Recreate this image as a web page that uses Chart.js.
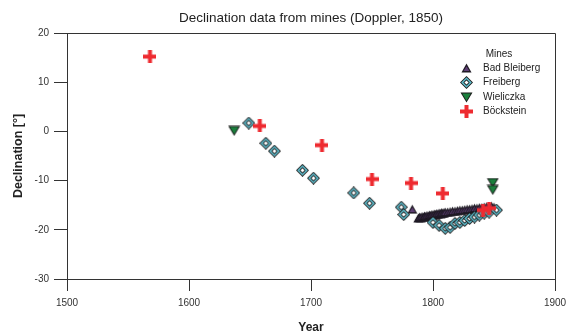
<!DOCTYPE html>
<html>
<head>
<meta charset="utf-8">
<script src="https://cdn.jsdelivr.net/npm/chart.js@4/dist/chart.umd.min.js"></script>
<style>
html,body{margin:0;padding:0;background:#fff;}
#wrap{width:574px;height:331px;}
</style>
</head>
<body>
<div id="wrap"><canvas id="c" width="574" height="331"></canvas></div>
<script>
const chartTitle = "Declination data from mines (Doppler, 1850)";
const legendTitle = "Mines";
const seriesNames = ["Bad Bleiberg", "Freiberg", "Wieliczka", "Böckstein"];
const xTicks = [1500, 1600, 1700, 1800, 1900];
const yTicks = [-30, -20, -10, 0, 10, 20];

const badBleibergYears = [1783,1788,1789,1790,1791,1792,1793,1794,1795,1796,1797,1798,1799,1800,1801,1802,1803,1804,1805,1806,1807,1808,1809,1810,1812,1814,1816,1818,1820,1822,1824,1826,1828,1830,1832,1834,1836,1838,1840,1842,1844,1846,1848,1850];
const badBleibergDecl = [-15.8,-17.6,-17.4,-17.5,-17.3,-17.4,-17.2,-17.3,-17.1,-17.2,-17.0,-17.1,-16.9,-17.0,-16.8,-16.9,-16.7,-16.8,-16.6,-16.7,-16.5,-16.6,-16.5,-16.4,-16.4,-16.3,-16.2,-16.2,-16.1,-16.0,-16.0,-15.9,-15.8,-15.8,-15.7,-15.6,-15.6,-15.5,-15.5,-15.4,-15.3,-15.3,-15.2,-15.4];

const freibergYears = [1649,1663,1670,1693,1702,1735,1748,1774,1776,1800,1805,1810,1814,1818,1822,1826,1830,1834,1838,1842,1846,1852];
const freibergDecl = [1.7,-2.4,-4.0,-7.9,-9.5,-12.5,-14.6,-15.4,-16.9,-18.5,-19.1,-19.7,-19.5,-18.7,-18.5,-18.1,-17.7,-17.4,-17.0,-16.6,-16.4,-16.0];

const wieliczkaYears = [1637,1849,1849];
const wieliczkaDecl = [0.1,-10.5,-11.9];

const bockYears = [1568,1658,1709,1750,1782,1808,1841,1846];
const bockDecl = [15.2,1.1,-2.8,-9.7,-10.5,-12.6,-16.0,-15.6];

function pts(xs, ys){ return xs.map((x,i)=>({x:x,y:ys[i]})); }

function mk(w,h,fn){ const c=document.createElement('canvas'); c.width=w; c.height=h; fn(c.getContext('2d'),w,h); return c; }

const triUp = mk(11,10,(g,w,h)=>{
  g.beginPath(); g.moveTo(w/2,0.5); g.lineTo(w-0.5,h-0.5); g.lineTo(0.5,h-0.5); g.closePath();
  g.fillStyle='#1f1a24'; g.fill();
  g.beginPath(); g.moveTo(w/2,3.2); g.lineTo(w-2.6,h-2); g.lineTo(2.6,h-2); g.closePath();
  g.fillStyle='#5e3f74'; g.fill();
});
const diamond = mk(13,13,(g,w,h)=>{
  const cx=w/2, cy=h/2;
  function d(r,col){ g.beginPath(); g.moveTo(cx,cy-r); g.lineTo(cx+r,cy); g.lineTo(cx,cy+r); g.lineTo(cx-r,cy); g.closePath(); g.fillStyle=col; g.fill(); }
  d(6.5,'#1a1a1a'); d(5.3,'#5fbccc'); d(3.2,'#1a1a1a'); d(2.1,'#ffffff');
});
const triDown = mk(13,11,(g,w,h)=>{
  g.beginPath(); g.moveTo(0.5,0.5); g.lineTo(w-0.5,0.5); g.lineTo(w/2,h-0.5); g.closePath();
  g.fillStyle='#1a1a1a'; g.fill();
  g.beginPath(); g.moveTo(2.2,1.6); g.lineTo(w-2.2,1.6); g.lineTo(w/2,h-2.3); g.closePath();
  g.fillStyle='#1a7f3c'; g.fill();
});
const cross = mk(13,13,(g,w,h)=>{
  g.fillStyle='#ee2b30';
  g.fillRect(0,4.5,13,4); g.fillRect(4.5,0,4,13);
});
const markers = [triUp, diamond, triDown, cross];

const datasets = [
  {label:seriesNames[0], data:pts(badBleibergYears,badBleibergDecl), pointStyle:triUp, order:3},
  {label:seriesNames[1], data:pts(freibergYears,freibergDecl), pointStyle:diamond, order:2},
  {label:seriesNames[2], data:pts(wieliczkaYears,wieliczkaDecl), pointStyle:triDown, order:1},
  {label:seriesNames[3], data:pts(bockYears,bockDecl), pointStyle:cross, order:0}
].map(d=>Object.assign({showLine:false, pointRadius:6, pointHoverRadius:6}, d));

const FONT = "'Liberation Sans', Arial, Helvetica, sans-serif";

const decor = {
  id:'decor',
  afterDraw(chart){
    const g=chart.ctx, a=chart.chartArea;
    g.save();
    g.strokeStyle='#333'; g.lineWidth=1;
    g.beginPath();
    g.moveTo(a.left, a.top+0.5); g.lineTo(a.right+0.5, a.top+0.5); g.lineTo(a.right+0.5, a.bottom);
    g.stroke();
    g.fillStyle='#222'; g.font='13.5px '+FONT; g.textAlign='center'; g.textBaseline='middle';
    g.fillText(chartTitle, (a.left+a.right)/2, 18);
    // legend
    g.font='10px '+FONT; g.fillStyle='#222';
    g.textAlign='center'; g.fillText(legendTitle, 499, 54);
    g.textAlign='left';
    const ys=[68,82,97,111];
    seriesNames.forEach((n,i)=>{
      const m=markers[i];
      g.drawImage(m, Math.round(466-m.width/2), Math.round(ys[i]-m.height/2));
      g.fillText(n, 483, ys[i]);
    });
    g.restore();
  }
};

new Chart(document.getElementById('c'), {
  type:'scatter',
  data:{datasets:datasets},
  options:{
    responsive:false, animation:false, events:[],
    layout:{padding:{top:33,right:19,left:0,bottom:0}},
    plugins:{legend:{display:false}, title:{display:false}, tooltip:{enabled:false}},
    scales:{
      x:{type:'linear', min:1500, max:1900,
        afterBuildTicks(s){ s.ticks = xTicks.map(v=>({value:v})); },
        afterFit(s){ s.height=52; },
        grid:{drawOnChartArea:false, drawTicks:true, tickLength:12, color:'#333', tickColor:'#333'},
        border:{display:true, color:'#333', width:1},
        ticks:{color:'#333', font:{size:10, family:FONT}, padding:6, maxRotation:0, callback:v=>String(v)},
        title:{display:true, text:'Year', color:'#222', font:{size:12, weight:'bold', family:FONT}, padding:{top:0,bottom:-4}}
      },
      y:{type:'linear', min:-30, max:20,
        afterBuildTicks(s){ s.ticks = yTicks.map(v=>({value:v})); },
        afterFit(s){ s.width=67; },
        grid:{drawOnChartArea:false, drawTicks:true, tickLength:13, color:'#333', tickColor:'#333'},
        border:{display:true, color:'#333', width:1},
        ticks:{color:'#333', font:{size:10, family:FONT}, padding:5, callback:v=>String(v)},
        title:{display:true, text:'Declination [°]', color:'#222', font:{size:12.5, weight:'bold', family:FONT}, padding:{top:11,bottom:0}}
      }
    }
  },
  plugins:[decor]
});
</script>
</body>
</html>
